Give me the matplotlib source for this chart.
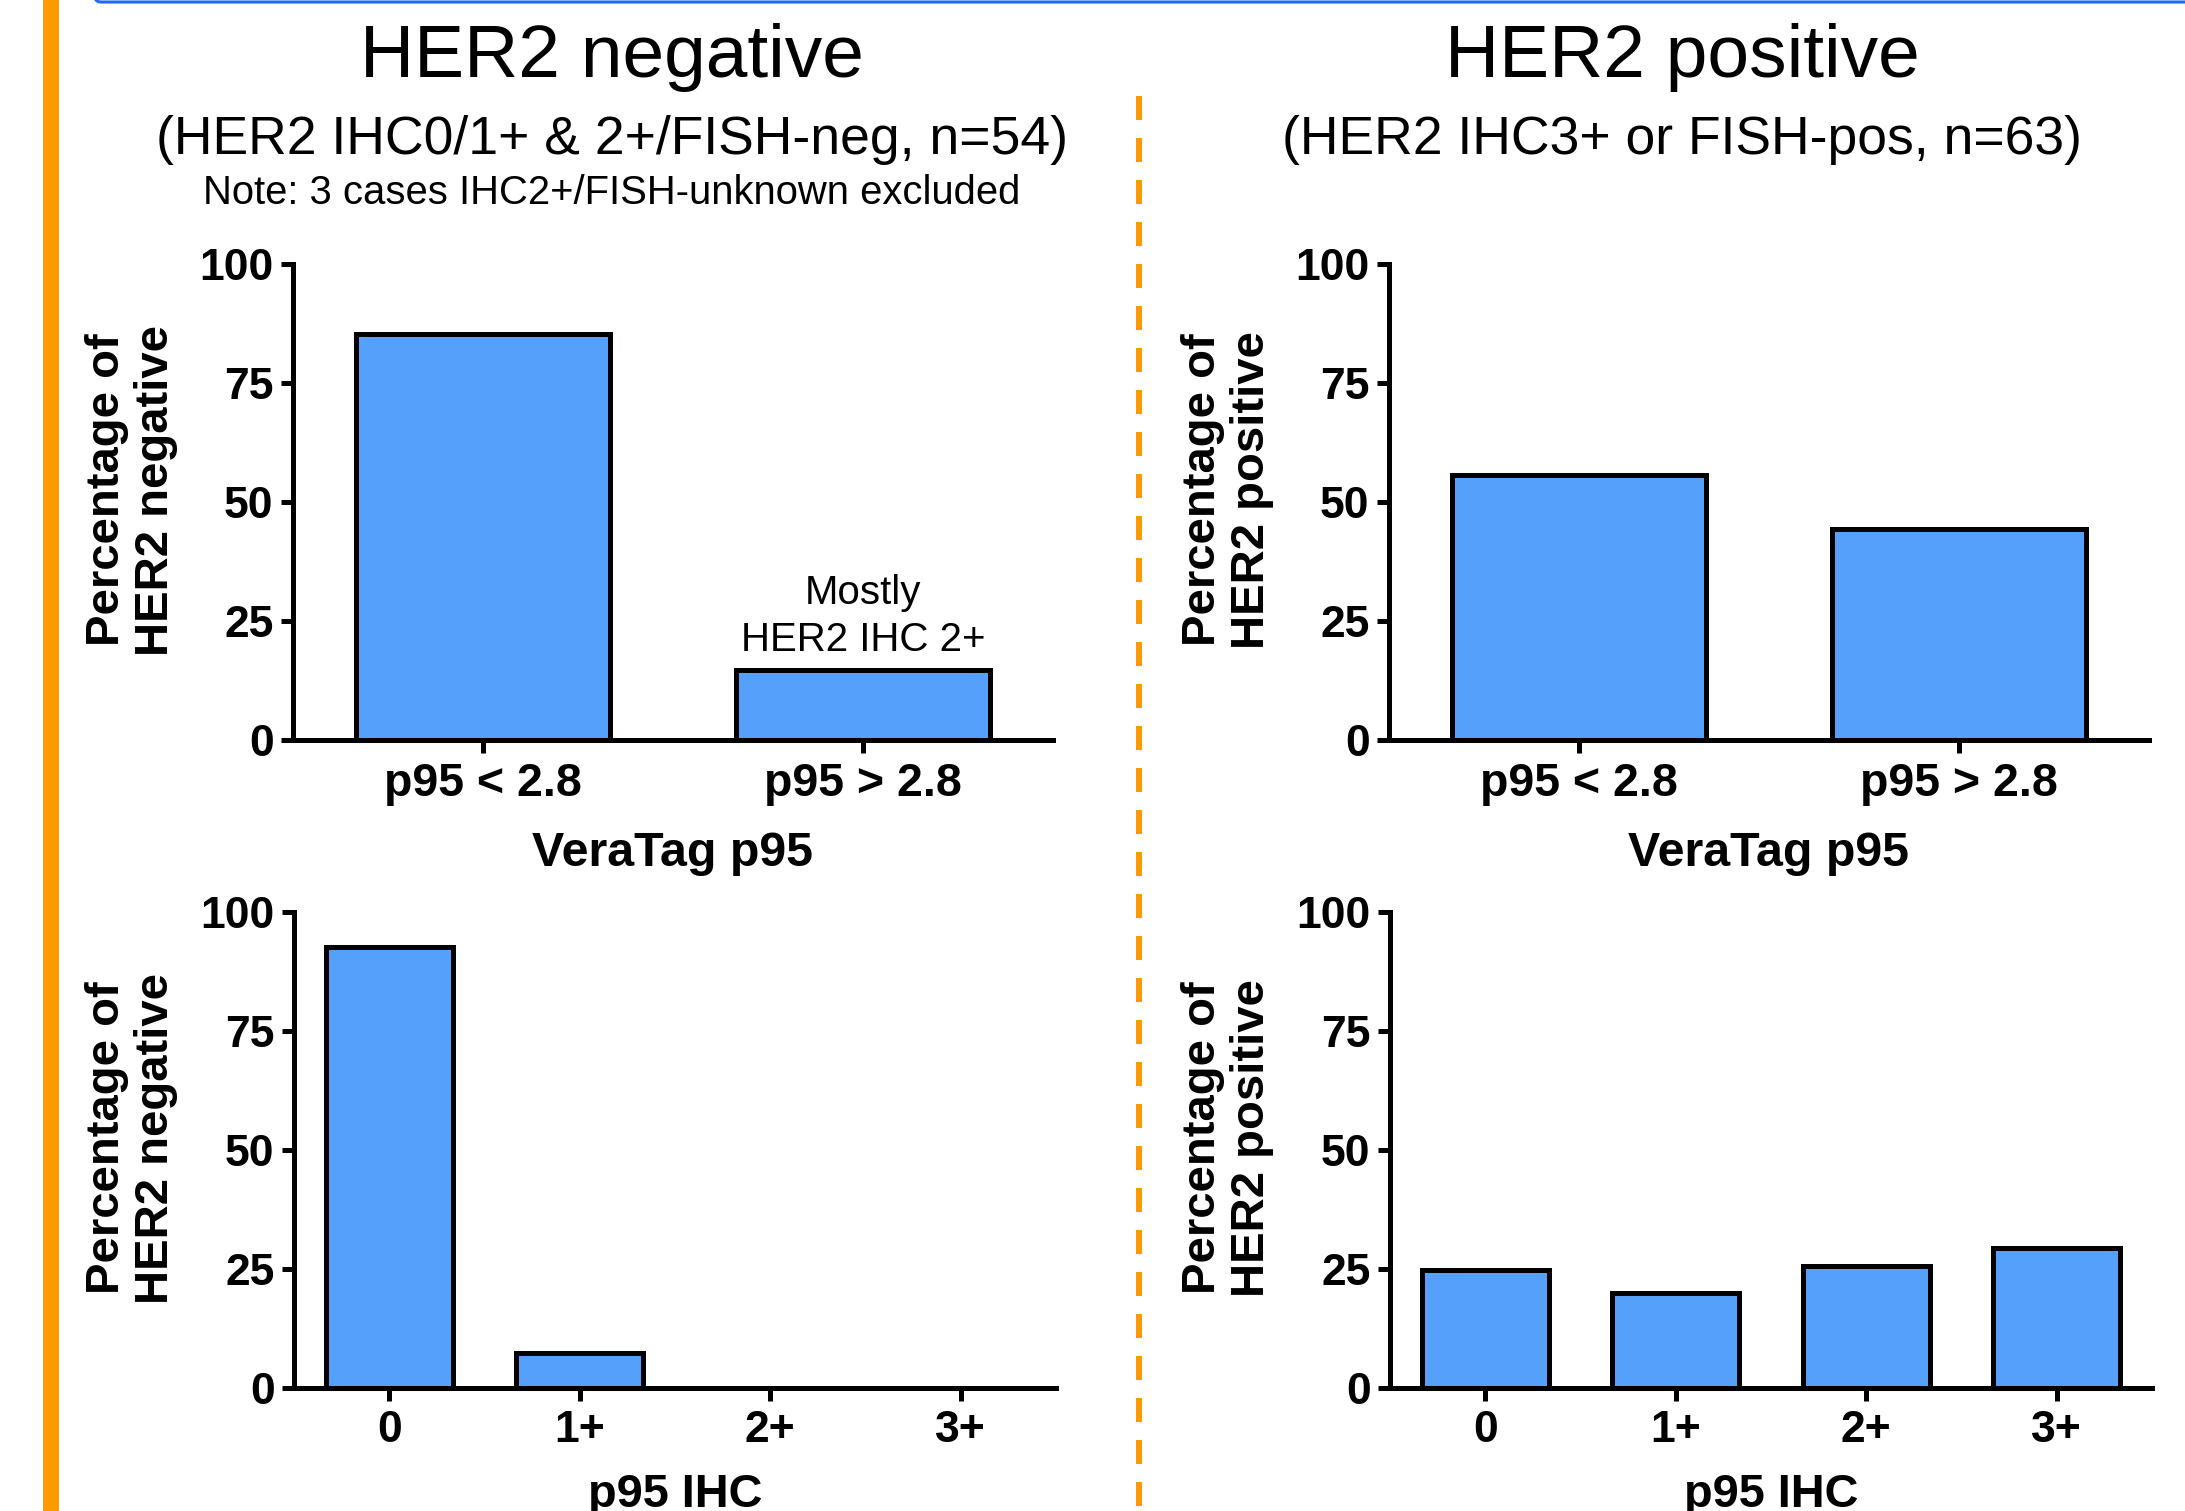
import numpy as np
import matplotlib
matplotlib.use("Agg")
import matplotlib.pyplot as plt
from matplotlib.patches import Rectangle, FancyBboxPatch
from matplotlib.lines import Line2D

W, H = 2185, 1511
DPI = 100

plt.rcParams['font.family'] = ['Liberation Sans', 'DejaVu Sans']

# ---------------- data ----------------
veratag_categories = ["p95 < 2.8", "p95 > 2.8"]
ihc_categories = ["0", "1+", "2+", "3+"]
her2neg_veratag = [85.2, 14.8]
her2pos_veratag = [55.6, 44.4]
her2neg_ihc = [92.6, 7.4, 0.0, 0.0]
her2pos_ihc = [24.8, 20.0, 25.7, 29.4]
y_ticks = [0, 25, 50, 75, 100]

neg_title = "HER2 negative"
neg_sub = "(HER2 IHC0/1+ & 2+/FISH-neg, n=54)"
neg_note = "Note: 3 cases IHC2+/FISH-unknown excluded"
pos_title = "HER2 positive"
pos_sub = "(HER2 IHC3+ or FISH-pos, n=63)"
neg_ylabel = "Percentage of\nHER2 negative"
pos_ylabel = "Percentage of\nHER2 positive"
xlabel_veratag = "VeraTag p95"
xlabel_ihc = "p95 IHC"

BAR = "#55A0FA"
ORANGE = "#FF9900"
BLUE = "#1F6BF5"

fig = plt.figure(figsize=(W / DPI, H / DPI), dpi=DPI)


def px_rect(left, top, width, height):
    return [left / W, 1 - (top + height) / H, width / W, height / H]


def draw(ax, cats, vals, ylabel, xlabel, xtick_size, xlabel_size, labelpad):
    x = np.arange(len(cats))
    ax.bar(x, vals, width=0.666, color=BAR, edgecolor="black",
           linewidth=3.6, zorder=3, clip_on=False)
    ax.set_xlim(-0.5, len(cats) - 0.5)
    ax.set_ylim(0, 100)
    ax.set_yticks(y_ticks)
    ax.set_xticks(x)
    ax.set_xticklabels(cats)
    for s in ["top", "right"]:
        ax.spines[s].set_visible(False)
    for s in ["left", "bottom"]:
        ax.spines[s].set_linewidth(3.6)
    ax.tick_params(axis="both", width=3.6, length=9, direction="out")
    ax.tick_params(axis="y", labelsize=32, pad=5)
    ax.tick_params(axis="x", labelsize=xtick_size, pad=7)
    for lab in ax.get_xticklabels() + ax.get_yticklabels():
        lab.set_fontweight("bold")
    ax.set_ylabel(ylabel, fontsize=34, fontweight="bold", va="center",
                  linespacing=1.15)
    ax.yaxis.set_label_coords(-0.213, 0.525)
    ax.set_xlabel(xlabel, fontsize=xlabel_size, fontweight="bold",
                  labelpad=labelpad)


ax_tl = fig.add_axes(px_rect(293, 264, 760, 476))
ax_tr = fig.add_axes(px_rect(1389, 264, 760, 476))
ax_bl = fig.add_axes(px_rect(294, 912, 762, 476))
ax_br = fig.add_axes(px_rect(1390, 912, 762, 476))

draw(ax_tl, veratag_categories, her2neg_veratag, neg_ylabel, xlabel_veratag, 33.5, 34.8, 18)
draw(ax_tr, veratag_categories, her2pos_veratag, pos_ylabel, xlabel_veratag, 33.5, 34.8, 18)
draw(ax_bl, ihc_categories, her2neg_ihc, neg_ylabel, xlabel_ihc, 32, 33.8, 16)
draw(ax_br, ihc_categories, her2pos_ihc, pos_ylabel, xlabel_ihc, 32, 33.8, 16)

ax_tl.text(1, 28.6, "Mostly", ha="center", va="baseline", fontsize=29)
ax_tl.text(1, 18.7, "HER2 IHC 2+", ha="center", va="baseline", fontsize=29)

# titles
fig.text(612 / W, 1 - 77 / H, neg_title, ha="center", va="baseline", fontsize=54)
fig.text(612 / W, 1 - 154 / H, neg_sub, ha="center", va="baseline", fontsize=38.5)
fig.text(612 / W, 1 - 204 / H, neg_note, ha="center", va="baseline", fontsize=28.8)
fig.text(1682 / W, 1 - 77 / H, pos_title, ha="center", va="baseline", fontsize=54)
fig.text(1682 / W, 1 - 154 / H, pos_sub, ha="center", va="baseline", fontsize=38.5)

# decorations
fig.patches.append(Rectangle((43 / W, 0), 16 / W, 1, transform=fig.transFigure,
                             facecolor=ORANGE, edgecolor="none"))
fig.lines.append(Line2D([1139 / W, 1139 / W], [1 - 96 / H, 0],
                        transform=fig.transFigure, color=ORANGE, lw=4.32,
                        linestyle=(0, (4, 3))))
fig.patches.append(FancyBboxPatch((80, H - 2), 2400, 200,
                                  boxstyle="round,pad=0,rounding_size=20",
                                  transform=None, facecolor="none",
                                  edgecolor=BLUE, linewidth=2.2))

fig.savefig("out.png", dpi=DPI)
